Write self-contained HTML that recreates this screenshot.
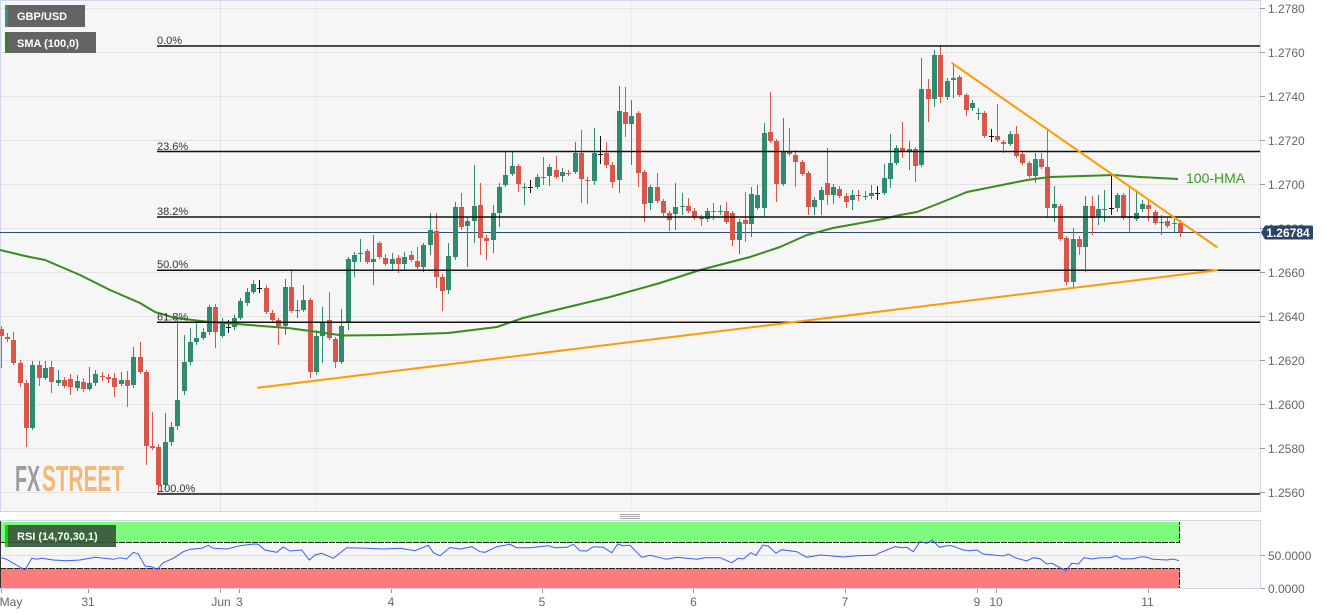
<!DOCTYPE html>
<html><head><meta charset="utf-8"><style>
html,body{margin:0;padding:0;background:#fff;}
svg{display:block;font-family:"Liberation Sans",Arial,sans-serif;}
</style></head><body>
<svg width="1331" height="615" viewBox="0 0 1331 615" xmlns="http://www.w3.org/2000/svg">
<rect x="0" y="0" width="1331" height="615" fill="#fff"/>
<!-- main panel -->
<rect x="0" y="0" width="1260" height="511" fill="#f6f6f6"/>
<g stroke="#e3e3e3" stroke-width="1">
<path d="M0 8.5H1260M0 52.5H1260M0 96.5H1260M0 140.5H1260M0 184.5H1260M0 228.5H1260M0 272.5H1260M0 316.5H1260M0 360.5H1260M0 404.5H1260M0 448.5H1260M0 492.5H1260"/>
</g>
<g stroke="#ececec" stroke-width="1"><path d="M316.5 0V511M631.5 0V511M946.5 0V511M316.5 521V588M631.5 521V588M946.5 521V588"/></g>
<path d="M220.5 0V511M220.5 521V588" stroke="#e0e0e0" stroke-width="1"/>
<path d="M0 0.5H1260.5V511.5H0.5V0.5" fill="none" stroke="#cfd6e8" stroke-width="1"/>

<!-- logo -->
<text x="15" y="491" font-size="36" font-weight="bold" fill="#9c9c9c" textLength="25" lengthAdjust="spacingAndGlyphs">FX</text>
<text x="42" y="491" font-size="36" font-weight="bold" fill="#f2b877" textLength="82" lengthAdjust="spacingAndGlyphs">STREET</text>

<!-- price line -->
<path d="M0 232.5H1260" stroke="#2e4d75" stroke-width="1"/>

<!-- candles -->
<path fill="none" stroke="#2f8a6f" stroke-width="1" d="M32.5 361V430M45.5 361V380M58.5 370V386M77.5 375V391M89.5 367V391M95.5 370V386M121.5 372V386M133.5 347V388M165.5 413V488M171.5 422V446M177.5 320V430M184.5 335V395M190.5 328V365M196.5 323V345M203.5 328V340M209.5 305V335M222.5 318V338M234.5 315V330M240.5 298V320M247.5 288V306M253.5 280V294M285.5 279V335M297.5 300V318M303.5 285V312M316.5 330V375M322.5 307V363M341.5 309V364M348.5 257V330M354.5 252V277M360.5 239V262M373.5 235V285M392.5 253V270M404.5 252V271M423.5 243V272M430.5 213V255M448.5 243V294M455.5 202V260M467.5 218V267M474.5 165V243M493.5 205V253M499.5 183V227M505.5 152V187M512.5 152V176M524.5 183V205M537.5 174V189M549.5 164V186M562.5 168V182M575.5 142V174M594.5 128V185M619.5 86V193M631.5 100V165M650.5 185V210M675.5 183V230M682.5 193V215M707.5 208V222M720.5 205V215M739.5 219V254M751.5 187V237M757.5 185V210M764.5 123V217M783.5 118V186M814.5 197V215M821.5 187V215M833.5 184V204M852.5 190V210M865.5 191V200M871.5 185V199M884.5 164V195M890.5 134V188M896.5 145V165M909.5 141V170M921.5 58V167M934.5 50V107M947.5 78V100M953.5 65V98M972.5 100V111M978.5 108V120M1010.5 131V146M1035.5 153V183M1054.5 186V222M1073.5 228V288M1085.5 196V272M1098.5 195V225M1104.5 190V222M1117.5 193V212M1136.5 190V221M1142.5 200V212M1161.5 215V235M1174.5 219V232"/>
<path fill="#2f8a6f" d="M30 365h5v63h-5zM43 368h5v10h-5zM56 380h5v3h-5zM75 381h5v7h-5zM87 383h5v6h-5zM93 374h5v9h-5zM119 380h5v4h-5zM131 357h5v28h-5zM163 442h5v43h-5zM169 427h5v15h-5zM175 400h5v26h-5zM182 362h5v29h-5zM188 342h5v20h-5zM194 338h5v4h-5zM201 332h5v6h-5zM207 307h5v25h-5zM220 323h5v13h-5zM232 318h5v9h-5zM238 301h5v17h-5zM245 292h5v11h-5zM251 284h5v8h-5zM283 287h5v39h-5zM295 310h5v1h-5zM301 300h5v10h-5zM314 336h5v36h-5zM320 322h5v14h-5zM339 326h5v36h-5zM346 259h5v63h-5zM352 255h5v7h-5zM358 253h5v1h-5zM371 259h5v3h-5zM390 259h5v5h-5zM402 257h5v7h-5zM421 245h5v22h-5zM428 230h5v15h-5zM446 256h5v34h-5zM453 207h5v50h-5zM465 221h5v5h-5zM472 206h5v15h-5zM491 213h5v27h-5zM497 187h5v26h-5zM503 175h5v10h-5zM510 166h5v8h-5zM522 187h5v1h-5zM535 177h5v10h-5zM547 167h5v9h-5zM560 172h5v4h-5zM573 153h5v19h-5zM592 153h5v28h-5zM617 111h5v69h-5zM629 116h5v8h-5zM648 187h5v16h-5zM673 207h5v7h-5zM680 206h5v1h-5zM705 211h5v8h-5zM718 211h5v1h-5zM737 222h5v18h-5zM749 194h5v30h-5zM755 195h5v13h-5zM762 133h5v75h-5zM781 151h5v33h-5zM812 200h5v7h-5zM819 190h5v10h-5zM831 187h5v8h-5zM850 195h5v5h-5zM863 196h5v1h-5zM869 193h5v3h-5zM882 178h5v15h-5zM888 163h5v16h-5zM894 148h5v15h-5zM907 149h5v3h-5zM919 89h5v76h-5zM932 55h5v44h-5zM945 81h5v16h-5zM951 78h5v2h-5zM970 103h5v5h-5zM976 113h5v1h-5zM1008 134h5v10h-5zM1033 159h5v17h-5zM1052 204h5v4h-5zM1071 239h5v43h-5zM1083 206h5v41h-5zM1096 209h5v8h-5zM1102 209h5v1h-5zM1115 195h5v13h-5zM1134 213h5v6h-5zM1140 204h5v5h-5zM1159 222h5v1h-5zM1172 223h5v1h-5z"/>
<path fill="none" stroke="#d9574a" stroke-width="1" d="M1.5 326V368M7.5 333V342M13.5 332V365M20.5 360V387M26.5 380V447M39.5 361V386M51.5 361V393M64.5 377V388M70.5 374V395M83.5 378V392M102.5 372V381M108.5 374V383M114.5 373V397M127.5 371V407M140.5 342V374M146.5 370V465M152.5 412V450M158.5 444V493M215.5 304V348M266.5 285V314M272.5 310V322M278.5 318V345M291.5 270V313M310.5 298V378M329.5 292V340M335.5 337V368M367.5 249V264M379.5 241V259M385.5 254V266M398.5 255V273M411.5 251V262M417.5 247V269M436.5 213V288M442.5 274V311M461.5 193V230M480.5 183V255M486.5 235V260M518.5 164V192M543.5 157V185M556.5 156V179M568.5 170V176M581.5 130V203M587.5 177V204M606.5 142V168M612.5 162V188M625.5 87V137M638.5 111V187M644.5 170V222M657.5 173V203M663.5 199V216M669.5 211V231M688.5 198V213M694.5 208V220M701.5 215V226M713.5 203V220M726.5 202V224M732.5 211V246M745.5 192V242M770.5 92V143M776.5 139V202M789.5 128V156M795.5 150V187M802.5 160V176M808.5 171V215M827.5 148V205M839.5 186V198M846.5 193V208M858.5 190V201M902.5 122V158M915.5 147V182M928.5 79V122M940.5 45V103M959.5 75V97M966.5 93V116M984.5 111V138M997.5 104V142M1003.5 140V153M1016.5 126V158M1022.5 152V165M1029.5 161V178M1041.5 153V169M1047.5 130V218M1060.5 204V241M1066.5 236V285M1079.5 236V255M1092.5 196V235M1123.5 193V220M1129.5 187V232M1148.5 200V221M1155.5 210V225M1167.5 218V228M1180.5 220V237"/>
<path fill="#d9574a" d="M-1 329h5v7h-5zM5 337h5v2h-5zM11 340h5v23h-5zM18 363h5v20h-5zM24 383h5v45h-5zM37 365h5v13h-5zM49 367h5v15h-5zM62 380h5v6h-5zM68 379h5v8h-5zM81 382h5v7h-5zM100 376h5v1h-5zM106 377h5v2h-5zM112 378h5v9h-5zM125 380h5v6h-5zM138 357h5v15h-5zM144 372h5v74h-5zM150 446h5v2h-5zM156 447h5v38h-5zM213 307h5v25h-5zM264 288h5v24h-5zM270 313h5v7h-5zM276 320h5v6h-5zM289 287h5v24h-5zM308 300h5v72h-5zM327 320h5v18h-5zM333 339h5v23h-5zM365 251h5v11h-5zM377 243h5v14h-5zM383 258h5v6h-5zM396 258h5v6h-5zM409 255h5v5h-5zM415 261h5v6h-5zM434 231h5v46h-5zM440 277h5v14h-5zM459 207h5v20h-5zM478 205h5v33h-5zM484 238h5v3h-5zM516 166h5v18h-5zM541 177h5v1h-5zM554 170h5v7h-5zM566 173h5v1h-5zM579 153h5v26h-5zM585 180h5v1h-5zM604 153h5v12h-5zM610 165h5v17h-5zM623 112h5v12h-5zM636 113h5v60h-5zM642 172h5v32h-5zM655 187h5v14h-5zM661 201h5v12h-5zM667 213h5v7h-5zM686 206h5v5h-5zM692 211h5v6h-5zM699 217h5v2h-5zM711 211h5v1h-5zM724 211h5v11h-5zM730 213h5v27h-5zM743 220h5v4h-5zM768 132h5v9h-5zM774 141h5v43h-5zM787 152h5v2h-5zM793 155h5v7h-5zM800 162h5v12h-5zM806 173h5v34h-5zM825 183h5v12h-5zM837 189h5v7h-5zM844 196h5v6h-5zM856 195h5v1h-5zM900 148h5v4h-5zM913 149h5v17h-5zM926 89h5v10h-5zM938 55h5v42h-5zM957 77h5v18h-5zM964 95h5v15h-5zM982 113h5v23h-5zM995 136h5v4h-5zM1001 142h5v2h-5zM1014 134h5v22h-5zM1020 154h5v9h-5zM1027 163h5v13h-5zM1039 159h5v8h-5zM1045 167h5v41h-5zM1058 206h5v33h-5zM1064 238h5v44h-5zM1077 239h5v8h-5zM1090 206h5v12h-5zM1121 195h5v23h-5zM1127 216h5v2h-5zM1146 205h5v4h-5zM1153 212h5v11h-5zM1165 221h5v5h-5zM1178 223h5v9h-5z"/>
<path fill="none" stroke="#111" stroke-width="1" d="M228.5 320V333M226 327.5h5M259.5 280V293M257 288.5h5M530.5 180V193M528 187.5h5M600.5 136V164M598 154.5h5M877.5 186V200M875 193.5h5M991.5 129V142M989 136.5h5M1111.5 173V215M1109 208.5h5"/>

<!-- MA line -->
<polyline fill="none" stroke="#3b8a1e" stroke-width="2" stroke-linejoin="round" points="0,250 25,256 45,260 80,275 110,290 140,303 155,312 175,318 210,322 250,325 290,328.3 343,335.5 390,335 448,333 497,327 523,318 560,309 610,297 660,283 700,270 750,257 780,247 807,235 833,228 883,219 900,215 917,212 940,203 967,192 987,188 1027,180 1050,177 1083,176 1113,175 1140,177 1178,179"/>
<text x="1186" y="183" font-size="14" fill="#3d9a1f">100-HMA</text>

<!-- Fibonacci -->
<g stroke="#111" stroke-width="1.5">
<path d="M157 46H1260M157 151.5H1260M157 217H1260M157 270.3H1260M157 322.3H1260M157 494H1260"/>
</g>
<g font-size="11" fill="#333">
<text x="157" y="44">0.0%</text>
<text x="157" y="150">23.6%</text>
<text x="157" y="215">38.2%</text>
<text x="157" y="268">50.0%</text>
<text x="157" y="320.5">61.8%</text>
<text x="158" y="492">100.0%</text>
</g>

<!-- trend lines -->
<g stroke="#ff9a00" stroke-width="2" stroke-linecap="round">
<line x1="258" y1="387.7" x2="1216.7" y2="270.3"/>
<line x1="952.3" y1="63.3" x2="1216.7" y2="247"/>
</g>

<!-- legend boxes -->
<rect x="5" y="5" width="80" height="22" fill="#646464"/>
<rect x="5" y="5" width="3" height="22" fill="#3a8f80"/>
<text x="17" y="20" font-size="11" font-weight="bold" fill="#fff">GBP/USD</text>
<rect x="5" y="32" width="91" height="21" fill="#646464"/>
<rect x="5" y="32" width="3" height="21" fill="#2d8a1a"/>
<text x="17" y="47" font-size="11" font-weight="bold" fill="#fff">SMA (100,0)</text>

<!-- right axis -->
<g stroke="#9a9a9a" stroke-width="1"><path d="M1260 8.5h5M1260 52.5h5M1260 96.5h5M1260 140.5h5M1260 184.5h5M1260 228.5h5M1260 272.5h5M1260 316.5h5M1260 360.5h5M1260 404.5h5M1260 448.5h5M1260 492.5h5M1260 555.5h5M1260 588.5h5"/></g>
<g font-size="12" fill="#666">
<text x="1268" y="13">1.2780</text>
<text x="1268" y="57">1.2760</text>
<text x="1268" y="101">1.2740</text>
<text x="1268" y="145">1.2720</text>
<text x="1268" y="189">1.2700</text>
<text x="1268" y="233">1.2680</text>
<text x="1268" y="277">1.2660</text>
<text x="1268" y="321">1.2640</text>
<text x="1268" y="365">1.2620</text>
<text x="1268" y="409">1.2600</text>
<text x="1268" y="453">1.2580</text>
<text x="1268" y="497">1.2560</text>
<text x="1268" y="560">50.0000</text>
<text x="1268" y="593">0.0000</text>
</g>
<path d="M1261 232.5L1265 225.5H1312a1 1 0 0 1 1 1V238.5a1 1 0 0 1-1 1H1265Z" fill="#2b4566"/>
<text x="1288" y="237" font-size="12" font-weight="bold" fill="#fff" text-anchor="middle">1.26784</text>

<!-- separator grip -->
<path d="M620 514.5h20M620 516.5h20M620 518.5h20" stroke="#888" stroke-width="0.8"/>

<!-- RSI panel -->
<rect x="0" y="521" width="1260" height="67" fill="#f6f6f6"/>
<path d="M0 555.5H1260" stroke="#dedede" stroke-width="1"/>
<rect x="0" y="522" width="1179" height="20" fill="#7dfc7d"/>
<rect x="0" y="568.5" width="1179" height="20" fill="#fc7b7b"/>
<path d="M0 542.5H1179.5V522" fill="none" stroke="#222" stroke-width="1" stroke-dasharray="6,1"/>
<path d="M0 568.5H1179.5V588.5" fill="none" stroke="#222" stroke-width="1" stroke-dasharray="6,1"/>
<path d="M0.5 520.5H1260.5V588.5H0.5Z" fill="none" stroke="#cfd6e8" stroke-width="1"/>
<path d="M0.5 521V588" stroke="#333" stroke-width="1"/>
<polyline fill="none" stroke="#3a5cff" stroke-width="1" points="0,557.3 6.7,559.3 25,570 31.7,558.3 36.7,559.3 41.7,558.3 53.3,560 66.7,560.7 80,560 95,557.3 113.3,559.3 120,557.7 126.7,559 133.3,552.3 138.3,554 145,566 151.7,566.7 157.3,569.3 163.3,562.7 173.3,558.3 183.3,551.7 190,549.3 201.7,548.3 208.3,545.3 213.3,548.3 226.7,549 240,545.7 253.3,544 258.3,544.3 265,550 276.7,552.3 283.3,547 290,551 301.7,550 309.3,560 315,555 321.7,553.3 333.3,558.3 346.7,547.7 366.7,548.3 383.3,549 400,548.3 415,550.7 428.3,545.3 433.3,552.7 440,555.7 450,547.5 460,549 471.7,546.7 480,551.7 485,552.3 496.7,546.7 510,544.3 516.7,547.7 530,547.7 548.3,545.7 555,547.7 566.7,547.3 573.3,544.3 580,550.7 586.7,551 593.3,546.7 603.3,547.3 611.7,552.7 617.7,544 623.3,545.7 630,545.3 641.7,557.3 650,555.3 666.7,559.3 676.7,557.3 696.7,559.3 705,557.7 720,557.7 731.7,562.7 738.3,558.3 743.3,559 750.7,552.7 756,555.3 762.7,545 768.3,546 776,553.3 781.7,549.7 796.7,551.7 806.7,557.3 820,555 830,555.7 843.3,557 856.7,555.7 875,555.3 880,552.7 895,546.7 901.7,547.7 906.7,547.3 913.3,551.7 920,541.7 926.7,543.3 932.3,540 939.3,547.3 946.7,545.7 951.7,545.7 963.3,550 970,550.7 976.7,550 983.3,554 993.3,555 1003.3,556 1008.3,554 1015,557.7 1026.7,561 1033.3,557.7 1040,558.7 1046.7,564 1051.7,563.3 1058.3,566.7 1065.7,571 1071.7,563.3 1078.3,564 1084,557.7 1091.7,559 1100,557.7 1110,557.7 1116,555.7 1121.7,559 1133.3,558.7 1141.7,556.7 1146.7,557.3 1153.3,559.3 1166.7,560 1173.3,559 1179,560.7"/>
<rect x="5" y="525" width="111" height="22" fill="#35573a" fill-opacity="0.92"/>
<rect x="5" y="525" width="3" height="22" fill="#00e000"/>
<text x="17" y="540" font-size="11" font-weight="bold" fill="#fff">RSI (14,70,30,1)</text>

<!-- x axis -->
<g stroke="#999" stroke-width="1"><path d="M1.5 589v4M88.5 589v4M220.5 589v4M239.5 589v4M391.5 589v4M542.5 589v4M693.5 589v4M845.5 589v4M977.5 589v4M996.5 589v4M1148.5 589v4"/></g>
<g font-size="12" fill="#666" text-anchor="middle">
<text x="11" y="606">May</text>
<text x="88" y="606">31</text>
<text x="221" y="606">Jun</text>
<text x="239.5" y="606">3</text>
<text x="391" y="606">4</text>
<text x="542" y="606">5</text>
<text x="693.5" y="606">6</text>
<text x="845" y="606">7</text>
<text x="977" y="606">9</text>
<text x="996" y="606">10</text>
<text x="1147.5" y="606">11</text>
</g>
</svg>
</body></html>
